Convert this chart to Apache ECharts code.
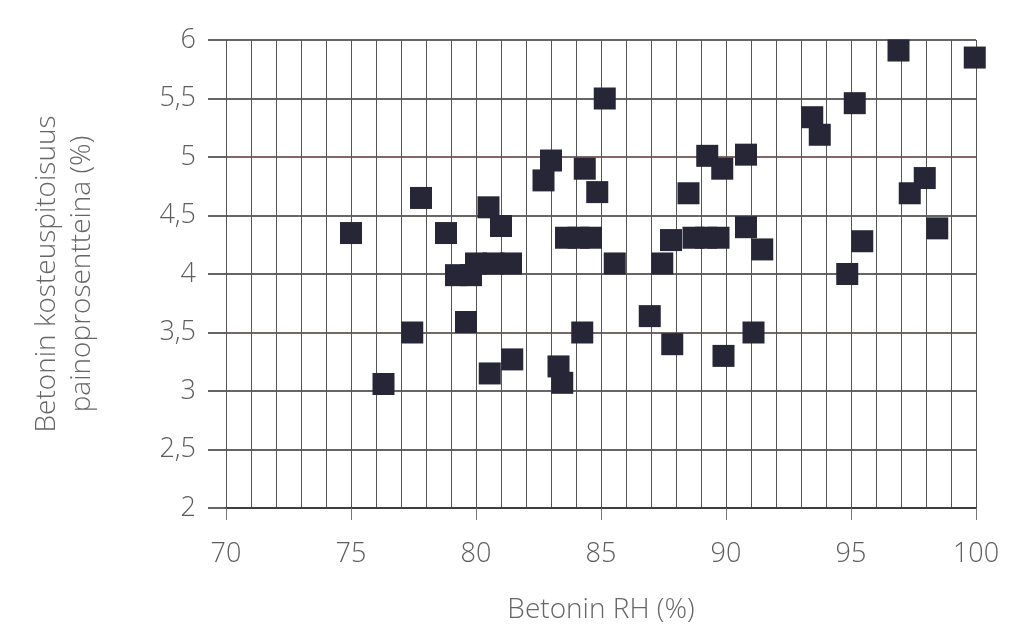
<!DOCTYPE html>
<html>
<head>
<meta charset="utf-8">
<script src="https://cdn.jsdelivr.net/npm/echarts@6/dist/echarts.min.js"></script>
<style>
html,body{margin:0;padding:0;background:#fff;}
#chart{width:1021px;height:632px;}
</style>
</head>
<body>
<div id="chart"></div>
<script>
// Betonin RH (%)
const rhValues = [
  75.0, 76.3, 77.45, 77.8, 78.8, 79.2, 79.8, 79.6, 80.0, 80.7, 81.4,
  80.5, 81.0, 80.55, 81.45, 82.7, 83.0, 83.3, 83.45, 83.6, 84.1, 84.6,
  84.35, 84.85, 84.25, 85.15, 85.55, 86.95, 87.45, 87.8, 87.85, 88.5,
  88.7, 89.2, 89.7, 89.25, 89.85, 89.9, 90.8, 90.8, 91.1, 91.45,
  93.45, 93.75, 94.85, 95.15, 95.45, 96.9, 97.35, 97.95, 98.45, 99.95
];
// Betonin kosteuspitoisuus painoprosentteina (%)
const moistureValues = [
  4.35, 3.06, 3.5, 4.65, 4.35, 3.99, 3.99, 3.59, 4.09, 4.09, 4.09,
  4.57, 4.41, 3.15, 3.27, 4.8, 4.97, 3.21, 3.07, 4.31, 4.31, 4.31,
  4.9, 4.7, 3.5, 5.5, 4.09, 3.64, 4.09, 4.29, 3.4, 4.69,
  4.31, 4.31, 4.31, 5.01, 4.9, 3.3, 5.02, 4.4, 3.5, 4.21,
  5.34, 5.19, 4.0, 5.46, 4.28, 5.91, 4.69, 4.82, 4.39, 5.85
];
const xTitle = 'Betonin RH (%)';
const yTitle = 'Betonin kosteuspitoisuus\npainoprosentteina (%)';

const points = rhValues.map((x, i) => [x, moistureValues[i]]);
const fontFamily = '"Open Sans", "DejaVu Sans", sans-serif';
const chart = echarts.init(document.getElementById('chart'));
chart.setOption({
  backgroundColor: '#ffffff',
  animation: false,
  grid: { left: 226, right: 45, top: 40, bottom: 124, containLabel: false },
  xAxis: {
    type: 'value', min: 70, max: 100, interval: 5,
    name: xTitle, nameLocation: 'middle', nameGap: 88,
    nameTextStyle: { fontFamily, fontSize: 28, fontWeight: 300, color: '#666' },
    axisLine: { show: true, lineStyle: { color: '#333', width: 1.5 } },
    axisTick: { show: true, inside: false, length: 12, lineStyle: { color: '#777', width: 1 } },
    axisLabel: { fontFamily, fontSize: 27, fontWeight: 300, color: '#5e5e5e', margin: 33 },
    splitLine: { show: true, lineStyle: { color: '#555', width: 1 } },
    minorTick: { show: false, splitNumber: 5 },
    minorSplitLine: { show: true, lineStyle: { color: '#555', width: 1 } }
  },
  yAxis: {
    type: 'value', min: 2, max: 6, interval: 0.5,
    name: yTitle, nameLocation: 'middle', nameGap: 126,
    nameTextStyle: { fontFamily, fontSize: 28, fontWeight: 300, color: '#666', lineHeight: 35, align: 'center' },
    axisLine: { show: true, lineStyle: { color: '#555', width: 1 } },
    axisTick: { show: true, inside: false, length: 18, lineStyle: { color: '#333', width: 1.5 } },
    axisLabel: {
      fontFamily, fontSize: 27, fontWeight: 300, color: '#5e5e5e', margin: 30,
      formatter: v => String(v).replace('.', ',')
    },
    splitLine: { show: true, lineStyle: {
      color: ['#333', '#333', '#333', '#4a3636', '#333', '#333', '#5a3434', '#333', '#333'],
      width: 1.5 } }
  },
  series: [{
    type: 'scatter',
    data: points,
    symbol: 'rect',
    symbolSize: 22,
    itemStyle: { color: '#262636', opacity: 1 }
  }]
});
</script>
</body>
</html>
